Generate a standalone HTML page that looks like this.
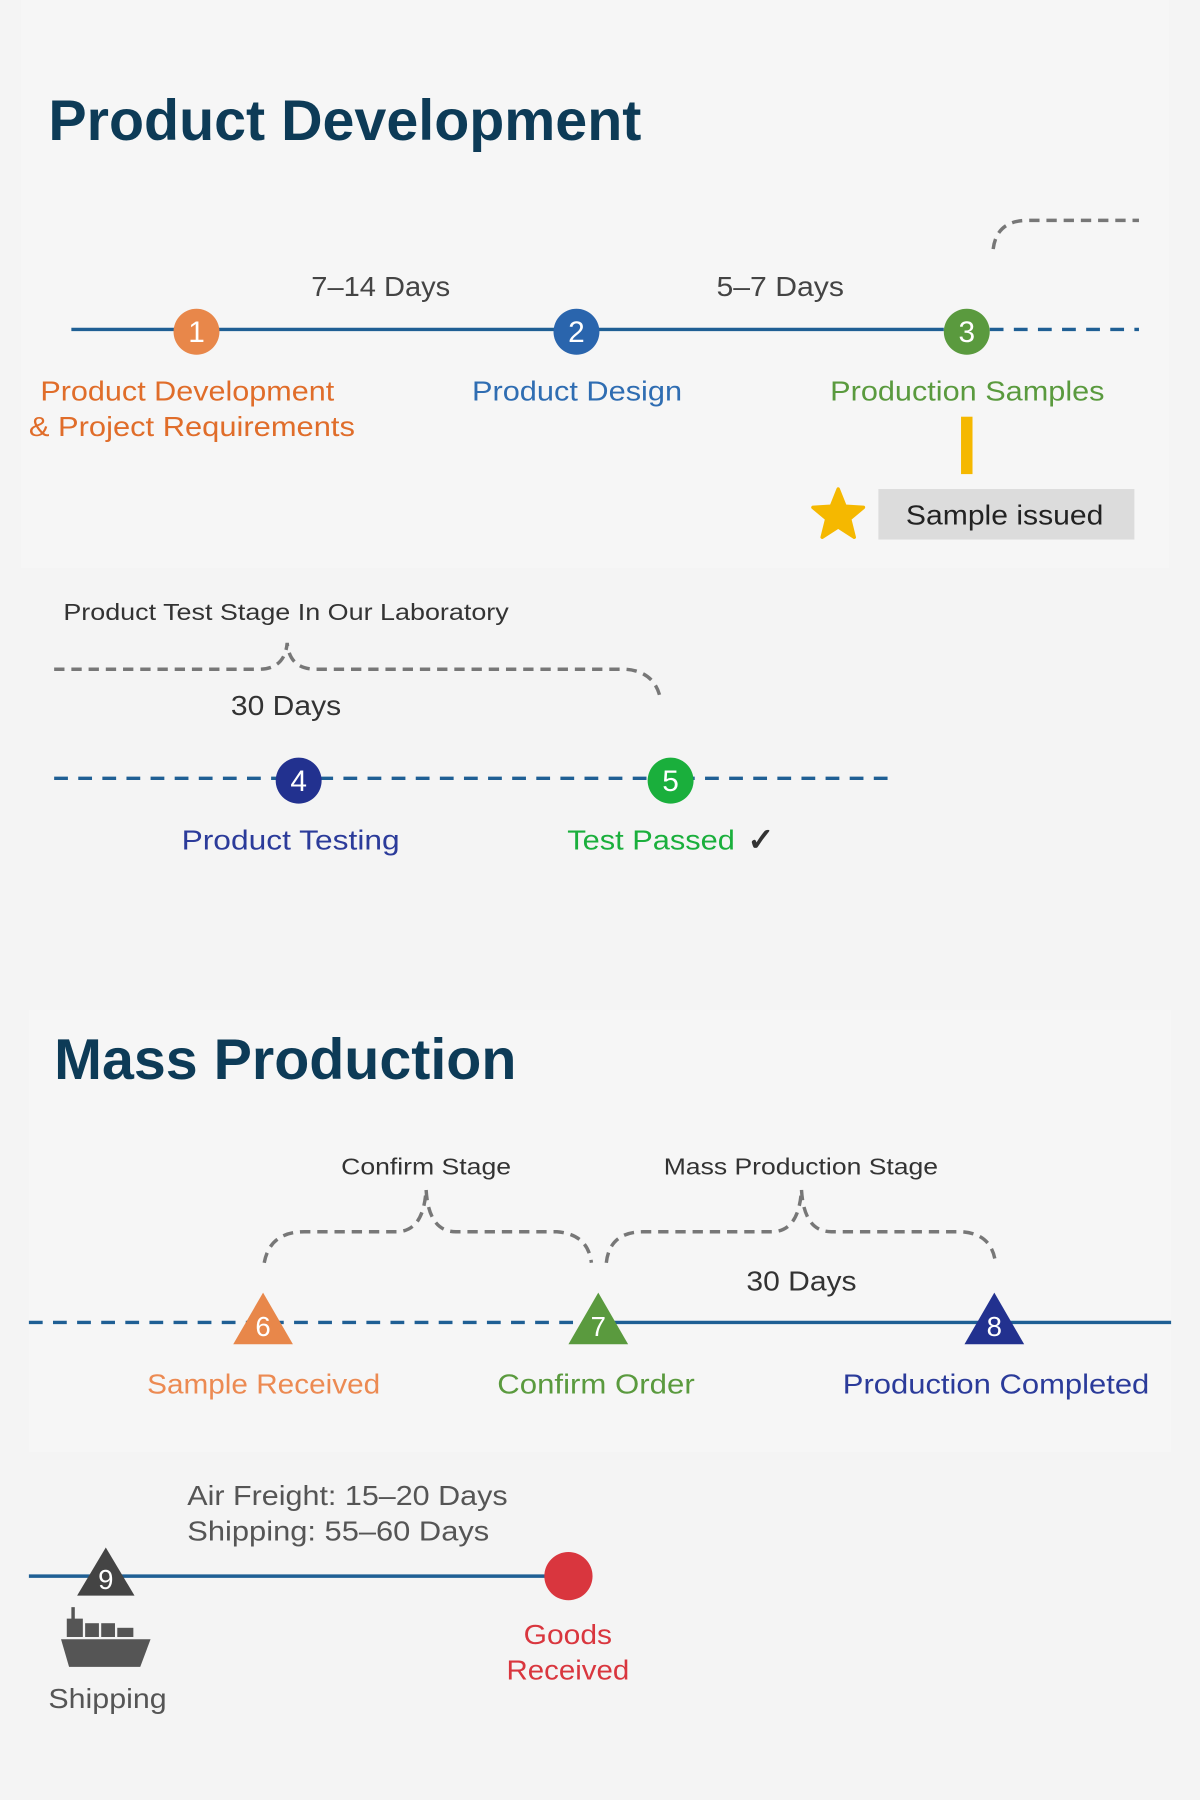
<!DOCTYPE html>
<html><head><meta charset="utf-8"><style>
html,body{margin:0;padding:0;background:#f4f4f4;}
svg{display:block}
text{font-family:"Liberation Sans",sans-serif;}
</style></head><body>
<svg width="1200" height="1800" viewBox="0 0 1045 1568" xmlns="http://www.w3.org/2000/svg">
<rect width="1045" height="1568" fill="#f4f4f4"/>
<rect x="18" y="0" width="1000" height="495" fill="#f6f6f6"/>
<rect x="25" y="880" width="995" height="385" fill="#f6f6f6"/>
<text x="42" y="122" font-size="50" font-weight="bold" fill="#0d3b57">Product Development</text>
<line x1="62" y1="287" x2="822" y2="287" stroke="#1f5f94" stroke-width="3"/>
<line x1="862" y1="287" x2="992" y2="287" stroke="#1f5f94" stroke-width="3" stroke-dasharray="12,9"/>
<path d="M865,217 Q868,192 895,192 L992,192" fill="none" stroke="#777" stroke-width="3" stroke-dasharray="9,6"/>
<g lengthAdjust="spacingAndGlyphs">
<text x="271" y="258" font-size="24" fill="#444" textLength="121" lengthAdjust="spacingAndGlyphs">7–14 Days</text>
<text x="624" y="258" font-size="24" fill="#444" textLength="111" lengthAdjust="spacingAndGlyphs">5–7 Days</text>
</g>
<circle cx="171" cy="289" r="20" fill="#e8874a"/>
<circle cx="502" cy="289" r="20" fill="#2a65ad"/>
<circle cx="842" cy="289" r="20" fill="#5a9a3e"/>
<g font-size="26" fill="#fff" text-anchor="middle">
<text x="171" y="298">1</text><text x="502" y="298">2</text><text x="842" y="298">3</text></g>
<g font-size="24">
<text x="35" y="349" fill="#e06d2a" textLength="256" lengthAdjust="spacingAndGlyphs">Product Development</text>
<text x="25" y="380" fill="#e06d2a" textLength="284" lengthAdjust="spacingAndGlyphs">&amp; Project Requirements</text>
<text x="411" y="349" fill="#2f6db2" textLength="183" lengthAdjust="spacingAndGlyphs">Product Design</text>
<text x="723" y="349" fill="#5a9a3e" textLength="239" lengthAdjust="spacingAndGlyphs">Production Samples</text></g>
<rect x="837" y="363" width="10" height="50" fill="#f5b800"/>
<polygon points="730,426 736,441 752,442 740,452 744,468 730,459 716,468 720,452 708,442 724,441" fill="#f5b800" stroke="#f5b800" stroke-width="3" stroke-linejoin="round"/>
<rect x="765" y="426" width="223" height="44" fill="#dcdcdc"/>
<text x="789" y="457" font-size="24" fill="#222" textLength="172" lengthAdjust="spacingAndGlyphs">Sample issued</text>
<text x="55" y="540" font-size="20" fill="#333" textLength="388" lengthAdjust="spacingAndGlyphs">Product Test Stage In Our Laboratory</text>
<path d="M47,583 L225,583 Q248,583 250,560 Q252,583 275,583 L545,583 Q570,585 575,608" fill="none" stroke="#777" stroke-width="3" stroke-dasharray="9,6"/>
<text x="201" y="623" font-size="24" fill="#333" textLength="96" lengthAdjust="spacingAndGlyphs">30 Days</text>
<line x1="47" y1="678" x2="782" y2="678" stroke="#1f5f94" stroke-width="3" stroke-dasharray="12,9"/>
<circle cx="260" cy="680" r="20" fill="#22318f"/>
<circle cx="584" cy="680" r="20" fill="#1aaf3c"/>
<g font-size="26" fill="#fff" text-anchor="middle"><text x="260" y="689">4</text><text x="584" y="689">5</text></g>
<text x="158" y="740" font-size="24" fill="#2b3b9a" textLength="190" lengthAdjust="spacingAndGlyphs">Product Testing</text>
<text x="494" y="740" font-size="24" fill="#1aaf3c" textLength="146" lengthAdjust="spacingAndGlyphs">Test Passed</text>
<text x="651" y="741" font-size="28" font-weight="bold" fill="#333">✓</text>
<text x="47" y="940" font-size="50" font-weight="bold" fill="#0d3b57">Mass Production</text>
<text x="297" y="1023" font-size="20" fill="#333" textLength="148" lengthAdjust="spacingAndGlyphs">Confirm Stage</text>
<text x="578" y="1023" font-size="20" fill="#333" textLength="239" lengthAdjust="spacingAndGlyphs">Mass Production Stage</text>
<path d="M230,1100 Q235,1073 265,1073 L345,1073 Q369,1073 371,1036 Q373,1073 397,1073 L485,1073 Q512,1075 515,1100" fill="none" stroke="#777" stroke-width="3" stroke-dasharray="9,6"/>
<path d="M528,1100 Q531,1073 560,1073 L672,1073 Q696,1073 698,1036 Q700,1073 724,1073 L838,1073 Q864,1075 867,1100" fill="none" stroke="#777" stroke-width="3" stroke-dasharray="9,6"/>
<text x="650" y="1124" font-size="24" fill="#333" textLength="96" lengthAdjust="spacingAndGlyphs">30 Days</text>
<line x1="25" y1="1152" x2="515" y2="1152" stroke="#1f5f94" stroke-width="3" stroke-dasharray="12,9"/>
<line x1="515" y1="1152" x2="1020" y2="1152" stroke="#1f5f94" stroke-width="3"/>
<polygon points="229,1126 255,1171 203,1171" fill="#e8874a"/>
<polygon points="521,1126 547,1171 495,1171" fill="#5a9a3e"/>
<polygon points="866,1126 892,1171 840,1171" fill="#22318f"/>
<g font-size="24" fill="#fff" text-anchor="middle"><text x="229" y="1164">6</text><text x="521" y="1164">7</text><text x="866" y="1164">8</text></g>
<g font-size="24">
<text x="128" y="1214" fill="#ec8a52" textLength="203" lengthAdjust="spacingAndGlyphs">Sample Received</text>
<text x="433" y="1214" fill="#5a9a3e" textLength="172" lengthAdjust="spacingAndGlyphs">Confirm Order</text>
<text x="734" y="1214" fill="#2b3b9a" textLength="267" lengthAdjust="spacingAndGlyphs">Production Completed</text></g>
<text x="163" y="1311" font-size="24" fill="#555" textLength="279" lengthAdjust="spacingAndGlyphs">Air Freight: 15–20 Days</text>
<text x="163" y="1342" font-size="24" fill="#555" textLength="263" lengthAdjust="spacingAndGlyphs">Shipping: 55–60 Days</text>
<line x1="25" y1="1373" x2="495" y2="1373" stroke="#1f5f94" stroke-width="3"/>
<polygon points="92,1348 117,1390 67,1390" fill="#444"/>
<text x="92" y="1384" font-size="24" fill="#fff" text-anchor="middle">9</text>
<circle cx="495" cy="1373" r="21" fill="#d9363e"/>
<g fill="#555">
<rect x="62" y="1400" width="3" height="12"/>
<rect x="58" y="1410" width="14" height="16"/>
<rect x="74" y="1414" width="12" height="12"/>
<rect x="88" y="1414" width="12" height="12"/>
<rect x="102" y="1418" width="14" height="8"/>
<polygon points="53,1428 131,1428 122,1452 60,1452"/>
</g>
<text x="42" y="1488" font-size="24" fill="#555" textLength="103" lengthAdjust="spacingAndGlyphs">Shipping</text>
<text x="456" y="1432" font-size="24" fill="#d9363e" textLength="77" lengthAdjust="spacingAndGlyphs">Goods</text>
<text x="441" y="1463" font-size="24" fill="#d9363e" textLength="107" lengthAdjust="spacingAndGlyphs">Received</text>
</svg>
</body></html>
